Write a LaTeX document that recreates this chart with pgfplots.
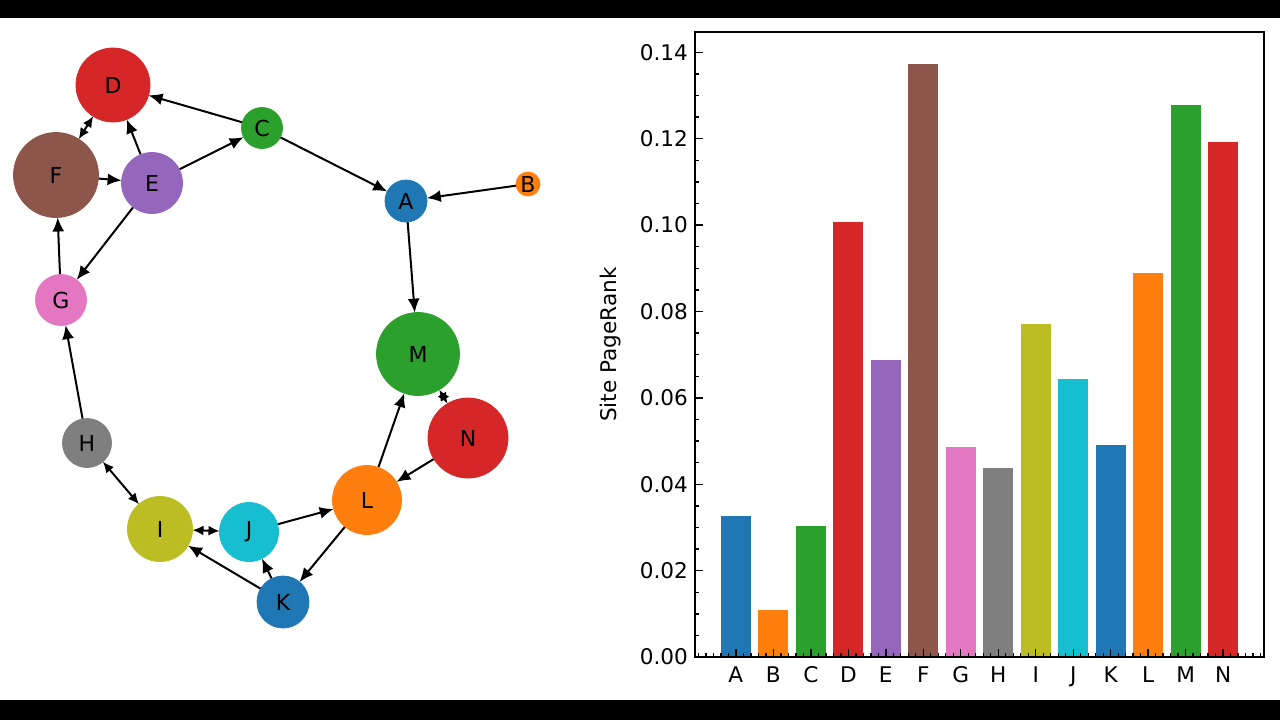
\documentclass[border=0pt]{standalone}
\usepackage{fontspec}
\setmainfont{DejaVu Sans}
\usepackage{pgfplots}
\pgfplotsset{compat=1.18}
\usetikzlibrary{arrows.meta}

\definecolor{tabblue}{HTML}{1F77B4}
\definecolor{taborange}{HTML}{FF7F0E}
\definecolor{tabgreen}{HTML}{2CA02C}
\definecolor{tabred}{HTML}{D62728}
\definecolor{tabpurple}{HTML}{9467BD}
\definecolor{tabbrown}{HTML}{8C564B}
\definecolor{tabpink}{HTML}{E377C2}
\definecolor{tabgray}{HTML}{7F7F7F}
\definecolor{tabolive}{HTML}{BCBD22}
\definecolor{tabcyan}{HTML}{17BECF}

% graph node: label, x, y, radius (px), colour
\newcommand{\gnode}[5]{%
  \addplot[only marks, mark=*, mark size=#4*0.5pt, color=#5,
    nodes near coords={#1},
    every node near coord/.append style={anchor=center, text=black,
      font=\fontsize{11}{13}\selectfont}]
    coordinates {(#2,#3)};}
% edge: arrow style, shorten start, shorten end (pt), x1, y1, x2, y2
\newcommand{\gedge}[7]{%
  \addplot[black, line width=1pt, #1, shorten <=#2pt, shorten >=#3pt]
    coordinates {(#4,#5) (#6,#7)};}

\tikzset{
  one/.style={-{Latex[length=7pt,width=6pt]}},
  two/.style={{Latex[length=5.5pt,width=5pt]}-{Latex[length=5.5pt,width=5pt]}},
}

\begin{document}
\begin{tikzpicture}
\fill[white] (0,0) rectangle (640pt,360pt);
\fill[black] (0,0) rectangle (640pt,10pt);
\fill[black] (0,351pt) rectangle (640pt,360pt);

%% network on the left, in pixel units
\begin{axis}[
    at={(0,0)}, anchor=south west,
    scale only axis, width=320pt, height=360pt,
    xmin=0, xmax=640, ymin=0, ymax=720, y dir=reverse,
    hide axis, clip=false,
    ]
\gedge{one}{10.25}{18.5}{262}{128}{113}{85}
\gedge{one}{15.25}{18.5}{152}{183}{113}{85}
\gedge{two}{21.25}{18.5}{56}{175}{113}{85}
\gedge{one}{15.25}{10.25}{152}{183}{262}{128}
\gedge{one}{10.25}{10.5}{262}{128}{406}{201}
\gedge{one}{6}{10.5}{528}{184}{406}{201}
\gedge{one}{21.25}{15.25}{56}{175}{152}{183}
\gedge{one}{15.25}{12.75}{152}{183}{61}{300}
\gedge{one}{12.75}{21.25}{61}{300}{56}{175}
\gedge{one}{12.25}{12.75}{87}{443}{61}{300}
\gedge{two}{12.25}{16.25}{87}{443}{160}{529}
\gedge{two}{16.25}{14.75}{160}{529}{249}{532}
\gedge{one}{14.75}{17.25}{249}{532}{367}{500}
\gedge{one}{17.25}{13}{367}{500}{283}{602}
\gedge{one}{13}{14.75}{283}{602}{249}{532}
\gedge{one}{13}{16.25}{283}{602}{160}{529}
\gedge{one}{17.25}{20.75}{367}{500}{418}{354}
\gedge{one}{20}{17.25}{468}{438}{367}{500}
\gedge{two}{20.75}{20}{418}{354}{468}{438}
\gedge{one}{10.5}{20.75}{406}{201}{418}{354}

\gnode{A}{406}{201}{21}{tabblue}
\gnode{B}{528}{184}{12}{taborange}
\gnode{C}{262}{128}{20.5}{tabgreen}
\gnode{D}{113}{85}{37}{tabred}
\gnode{E}{152}{183}{30.5}{tabpurple}
\gnode{F}{56}{175}{42.5}{tabbrown}
\gnode{G}{61}{300}{25.5}{tabpink}
\gnode{H}{87}{443}{24.5}{tabgray}
\gnode{I}{160}{529}{32.5}{tabolive}
\gnode{J}{249}{532}{29.5}{tabcyan}
\gnode{K}{283}{602}{26}{tabblue}
\gnode{L}{367}{500}{34.5}{taborange}
\gnode{M}{418}{354}{41.5}{tabgreen}
\gnode{N}{468}{438}{40}{tabred}
\end{axis}

%% PageRank bars on the right
\begin{axis}[
    at={(347.5pt,31.5pt)}, anchor=south west,
    scale only axis, width=284.5pt, height=312.5pt,
    xmin=-1.09, xmax=14.09, ymin=0, ymax=0.1447,
    ybar, bar width=0.8, bar shift=0pt,
    set layers, axis on top,
    xtick={0,...,13},
    xticklabels={A,B,C,D,E,F,G,H,I,J,K,L,M,N},
    minor xtick={-1,-0.8,...,14},
    ytick={0,0.02,...,0.14},
    minor y tick num=3,
    xtick pos=bottom, ytick pos=left,
    tick align=inside,
    major tick length=4pt, minor tick length=2.2pt,
    tick style={black, line width=0.7pt},
    axis line style={line width=0.8pt},
    yticklabel style={/pgf/number format/fixed, /pgf/number format/precision=2,
      /pgf/number format/fixed zerofill},
    /pgf/number format/assume math mode=true,
    ticklabel style={font=\fontsize{10.8}{13}\selectfont},
    xticklabel style={text height=8pt, text depth=0pt, yshift=-1pt},
    ylabel={Site PageRank},
    ylabel style={font=\fontsize{10.8}{13}\selectfont,
      at={(axis description cs:-0.1476,0.5)}, anchor=center},
    ]
\addplot[fill=tabblue, draw=none] coordinates {(0,0.0327)};
\addplot[fill=taborange, draw=none] coordinates {(1,0.0109)};
\addplot[fill=tabgreen, draw=none] coordinates {(2,0.0304)};
\addplot[fill=tabred, draw=none] coordinates {(3,0.1008)};
\addplot[fill=tabpurple, draw=none] coordinates {(4,0.0688)};
\addplot[fill=tabbrown, draw=none] coordinates {(5,0.1374)};
\addplot[fill=tabpink, draw=none] coordinates {(6,0.0487)};
\addplot[fill=tabgray, draw=none] coordinates {(7,0.0438)};
\addplot[fill=tabolive, draw=none] coordinates {(8,0.0772)};
\addplot[fill=tabcyan, draw=none] coordinates {(9,0.0644)};
\addplot[fill=tabblue, draw=none] coordinates {(10,0.0491)};
\addplot[fill=taborange, draw=none] coordinates {(11,0.0890)};
\addplot[fill=tabgreen, draw=none] coordinates {(12,0.1279)};
\addplot[fill=tabred, draw=none] coordinates {(13,0.1193)};
\end{axis}
\end{tikzpicture}
\end{document}
